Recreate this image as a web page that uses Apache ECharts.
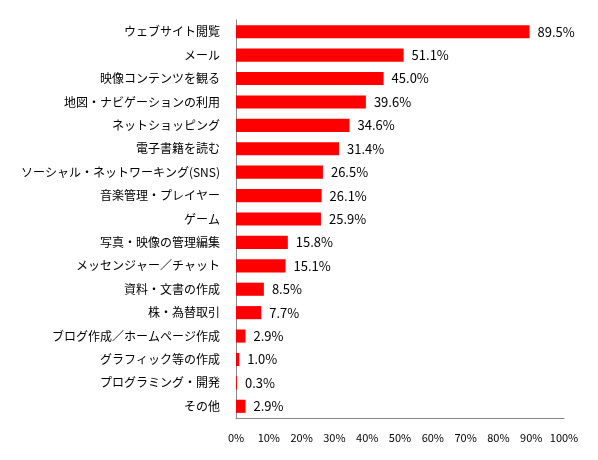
<!DOCTYPE html>
<html>
<head>
<meta charset="utf-8">
<script src="https://cdn.jsdelivr.net/npm/echarts@6/dist/echarts.min.js"></script>
<style>
  html, body { margin: 0; padding: 0; background: #fff; }
  #chart { width: 598px; height: 460px; }
</style>
</head>
<body>
<div id="chart"></div>
<script>
var categories = [
    'ウェブサイト閲覧',
    'メール',
    '映像コンテンツを観る',
    '地図・ナビゲーションの利用',
    'ネットショッピング',
    '電子書籍を読む',
    'ソーシャル・ネットワーキング(SNS)',
    '音楽管理・プレイヤー',
    'ゲーム',
    '写真・映像の管理編集',
    'メッセンジャー／チャット',
    '資料・文書の作成',
    '株・為替取引',
    'ブログ作成／ホームページ作成',
    'グラフィック等の作成',
    'プログラミング・開発',
    'その他'
];
var values = [89.5, 51.1, 45.0, 39.6, 34.6, 31.4, 26.5, 26.1, 25.9, 15.8, 15.1, 8.5, 7.7, 2.9, 1.0, 0.3, 2.9];
var xTicks = [0, 100, 10]; // min, max, interval

var font = '"Noto Sans CJK JP", "Noto Sans", sans-serif';
var chart = echarts.init(document.getElementById('chart'));

chart.setOption({
    animation: false,
    grid: { left: 236, right: 34, top: 20, bottom: 42, containLabel: false },
    xAxis: {
        type: 'value',
        min: xTicks[0],
        max: xTicks[1],
        interval: xTicks[2],
        axisLine: { show: true, lineStyle: { color: '#888', width: 1 } },
        axisTick: { show: false },
        splitLine: { show: false },
        axisLabel: {
            formatter: '{value}%',
            color: '#000',
            fontFamily: font,
            fontSize: 11,
            margin: 14
        }
    },
    yAxis: {
        type: 'category',
        data: categories,
        inverse: true,
        axisLine: { show: true, lineStyle: { color: '#888', width: 1 } },
        axisTick: { show: false },
        axisLabel: {
            color: '#000',
            fontFamily: font,
            fontSize: 12,
            margin: 16
        }
    },
    series: [{
        type: 'bar',
        data: values,
        barCategoryGap: '44%',
        itemStyle: { color: '#ff0000' },
        label: {
            show: true,
            position: 'right',
            distance: 8,
            color: '#000',
            fontFamily: font,
            fontSize: 13,
            formatter: function (p) { return p.value.toFixed(1) + '%'; }
        }
    }]
});
</script>
</body>
</html>
